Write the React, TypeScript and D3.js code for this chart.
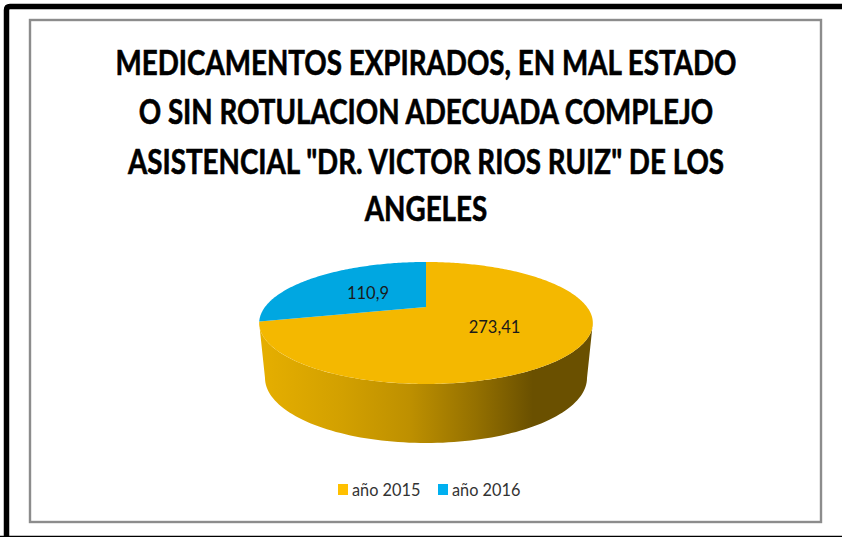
import React from 'react';
import * as d3 from 'd3';

// chart data
const categories = ['año 2015', 'año 2016'];
const values = [273.41, 110.9];
const valueLabels = ['273,41', '110,9'];
const colors = ['#F4B800', '#00A7E1'];
const legendColors = ['#FFC000', '#00B0F0'];
const titleLines = [
  'MEDICAMENTOS EXPIRADOS, EN MAL ESTADO',
  'O SIN ROTULACION ADECUADA COMPLEJO',
  'ASISTENCIAL "DR. VICTOR RIOS RUIZ" DE LOS',
  'ANGELES',
];
const titleBaselines = [75, 124, 174, 221];

const width = 842;
const height = 537;

// the pie is a flat disc seen in perspective
const cx = 426;
const hubY = 307;
const spreadX = 161;
const spreadY = 56.8;
const tilt = -0.262;

const project = (angle: number): [number, number] => {
  const u = Math.sin(angle);
  const v = -Math.cos(angle);
  const w = 1 + tilt * v;
  return [cx + (spreadX * u) / w, hubY + (spreadY * v) / w];
};

const line = d3.line();
const sweep = (a0: number, a1: number) => {
  const n = Math.max(2, Math.ceil(Math.abs(a1 - a0) * 60));
  return d3.range(n + 1).map(i => project(a0 + ((a1 - a0) * i) / n));
};

const slices = d3.pie<number>().sort(null)(values);

// wall of the pie: front half of the top rim + bottom rim
const rimRight = Math.acos(tilt);
const rimLeft = 2 * Math.PI - rimRight;
const frontRim = sweep(rimRight, rimLeft);
const bottomCy = 378;
const bottomRy = 65;
const bottomRx = 161;
const bottomRim: [number, number][] = d3.range(0, 181, 2).map(deg => {
  const t = (deg * Math.PI) / 180;
  return [cx - bottomRx * Math.cos(t), bottomCy + bottomRy * Math.sin(t)];
});
const wallPath = line([...frontRim, ...bottomRim]) + 'Z';

const labelSpots: [number, number][] = [
  [494.5, 327],
  [368, 293],
];

const legendX = d3.scalePoint<string>().domain(categories).range([338, 438]);

export default function App() {
  return (
    <svg
      width={width}
      height={height}
      viewBox={`0 0 ${width} ${height}`}
      style={{ position: 'fixed', left: 0, top: 0, display: 'block', background: '#fff' }}
    >
      <defs>
        <linearGradient id="wall" gradientUnits="userSpaceOnUse" x1={259} x2={593} y1={0} y2={0}>
          <stop offset="0" stopColor="#E6AF00" />
          <stop offset="0.25" stopColor="#D2A000" />
          <stop offset="0.45" stopColor="#BE9000" />
          <stop offset="0.65" stopColor="#947000" />
          <stop offset="0.82" stopColor="#6A5000" />
          <stop offset="1" stopColor="#6A5000" />
        </linearGradient>
      </defs>

      {/* outer black frame */}
      <path d="M6.5,537 V10 Q6.5,6.5 10,6.5 H842" fill="none" stroke="#000" strokeWidth={5.5} />
      <line x1={0} x2={842} y1={536.5} y2={536.5} stroke="#000" strokeWidth={1.5} />

      {/* chart border */}
      <rect x={30} y={20} width={791} height={502} fill="#fff" stroke="#8C8C8C" strokeWidth={2.4} />

      <g fontFamily="Lato, sans-serif" fill="#000">
        {titleLines.map((t, i) => (
          <text
            key={t}
            transform={`translate(426,${titleBaselines[i]}) scale(0.817,1)`}
            textAnchor="middle"
            fontWeight={700}
            fontSize={34}
            stroke="#000"
            strokeWidth={0.6}
          >
            {t}
          </text>
        ))}
      </g>

      <path d={wallPath} fill="url(#wall)" />
      {slices.map((s, i) => (
        <path
          key={categories[i]}
          d={line([[cx, hubY], ...sweep(s.startAngle, s.endAngle)]) + 'Z'}
          fill={colors[i]}
        />
      ))}

      <g fontFamily="Lato, sans-serif" fontSize={16.5} fill="#1a1a1a" textAnchor="middle">
        {valueLabels.map((t, i) => (
          <text key={t} x={labelSpots[i][0]} y={labelSpots[i][1] + 6}>
            {t}
          </text>
        ))}
      </g>

      <g fontFamily="Lato, sans-serif" fontSize={16.3} fill="#333">
        {categories.map((c, i) => (
          <g key={c} transform={`translate(${legendX(c)},484)`}>
            <rect width={10} height={11} fill={legendColors[i]} />
            <text x={14} y={11.5}>
              {c}
            </text>
          </g>
        ))}
      </g>
    </svg>
  );
}
